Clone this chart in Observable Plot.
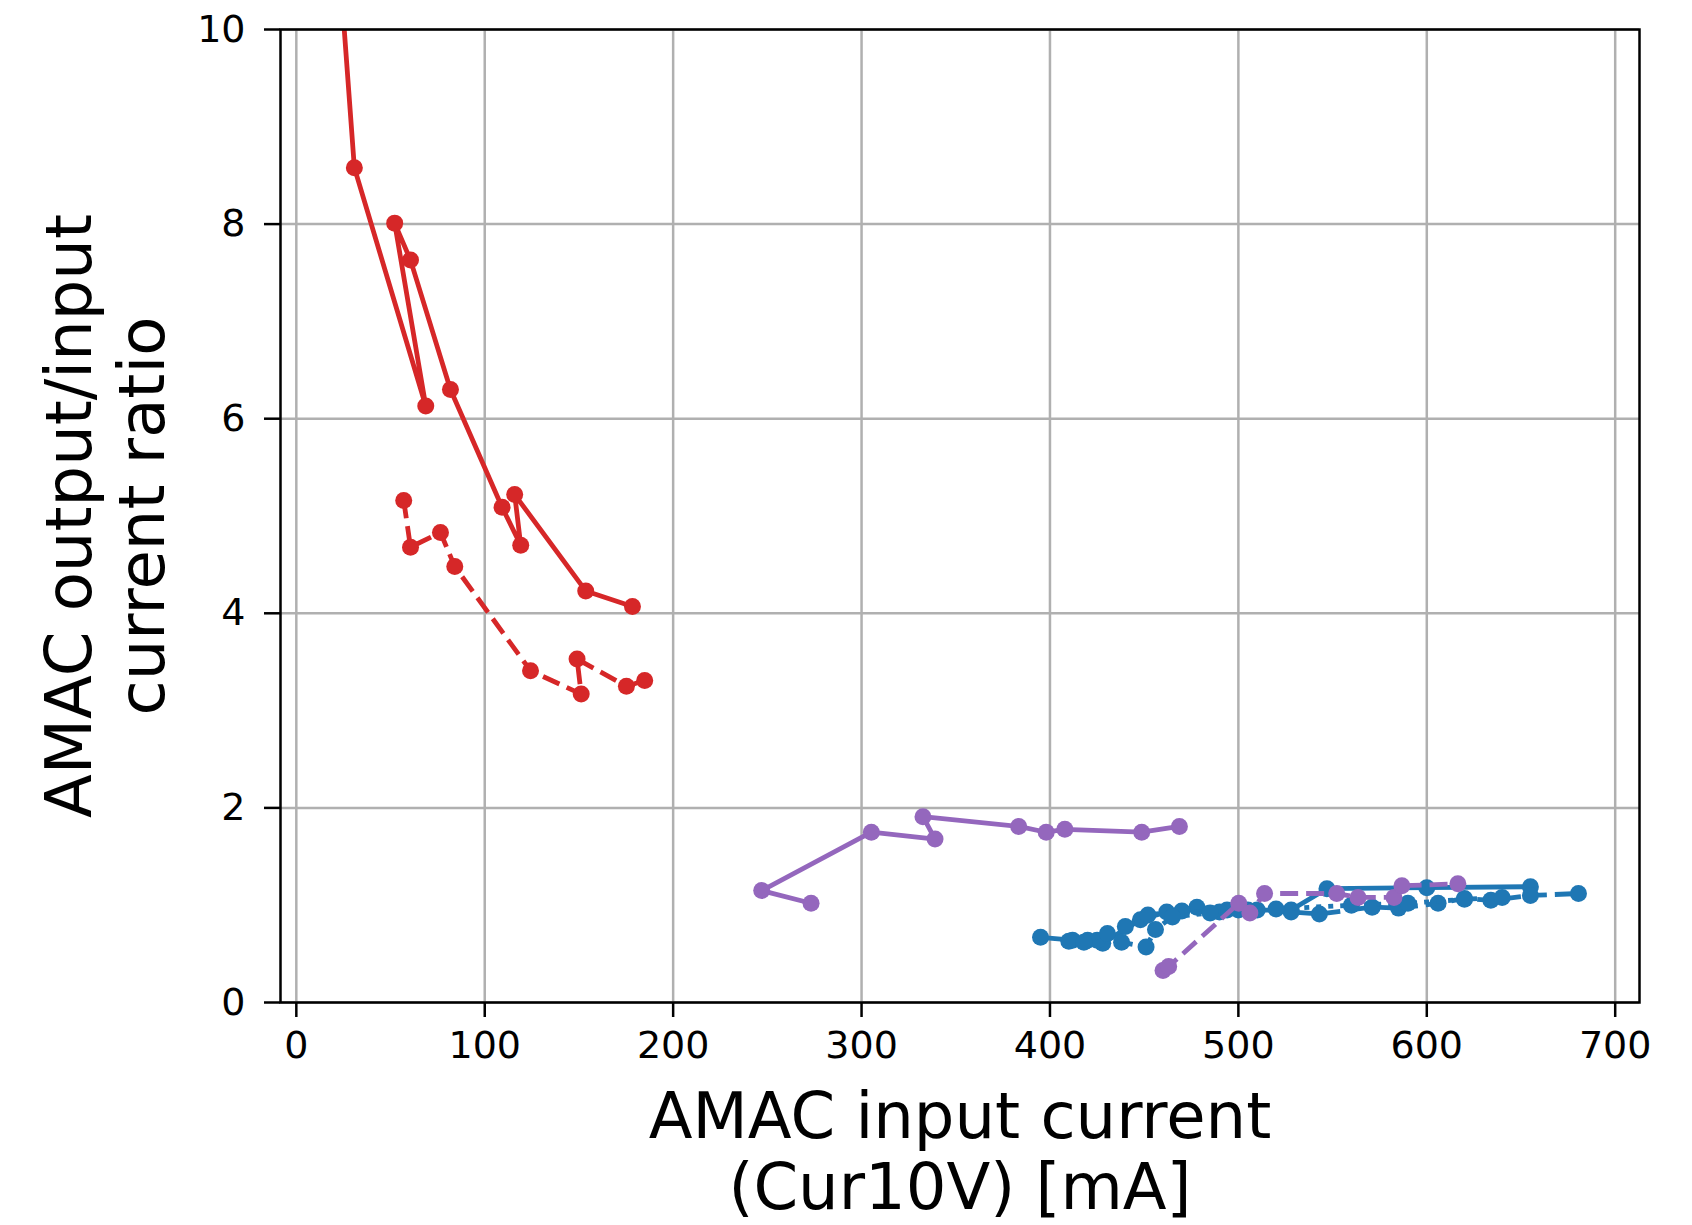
<!DOCTYPE html>
<html><head><meta charset="utf-8">
<script src="https://cdn.jsdelivr.net/npm/d3@7"></script>
<script src="https://cdn.jsdelivr.net/npm/@observablehq/plot@0.6"></script>
<style>body{margin:0;background:#fff;} svg{display:block;}</style>
</head><body><div id="chart"></div>
<script>
// ---- tick labels ----
const xTicks = [0, 100, 200, 300, 400, 500, 600, 700];
const yTicks = [0, 2, 4, 6, 8, 10];
const xLabel = "AMAC input current\n(Cur10V) [mA]";
const yLabel = "AMAC output/input\ncurrent ratio";

// ---- red series ----
const redSolidX = [24.3, 30.8, 68.7, 52.2, 60.6, 81.8, 109.2, 119.1, 115.9, 153.6, 178.4];
const redSolidY = [10.3, 8.58, 6.13, 8.01, 7.63, 6.30, 5.09, 4.70, 5.22, 4.23, 4.07];
const redDashX = [57.0, 60.6, 76.5, 84.1, 124.3, 151.2, 149.0, 175.2, 184.9];
const redDashY = [5.16, 4.68, 4.83, 4.48, 3.41, 3.17, 3.53, 3.25, 3.31];

// ---- purple series ----
const purpleSolidX = [273.2, 247.0, 305.2, 339.0, 332.6, 383.4, 398.0, 407.9, 448.7, 468.7];
const purpleSolidY = [1.02, 1.15, 1.75, 1.68, 1.91, 1.81, 1.75, 1.78, 1.75, 1.81];
const purpleDashX = [460.0, 463.0, 500.2, 506.1, 513.9, 552.2, 563.5, 582.6, 586.8, 616.5];
const purpleDashY = [0.33, 0.37, 1.02, 0.92, 1.12, 1.12, 1.08, 1.08, 1.20, 1.22];

// ---- blue series ----
const blueSolidX = [395.0, 412.0, 420.0, 428.0, 448.0, 462.0, 478.0, 494.0, 510.0, 528.0, 547.0, 600.0, 655.0];
const blueSolidY = [0.67, 0.64, 0.64, 0.61, 0.85, 0.93, 0.98, 0.95, 0.95, 0.95, 1.17, 1.18, 1.19];
const blueDashX = [410.0, 425.0, 440.0, 452.0, 470.0, 490.0, 505.0, 528.0, 543.0, 571.0, 585.0, 606.0, 620.0, 634.0, 655.0, 680.5];
const blueDashY = [0.63, 0.64, 0.78, 0.90, 0.94, 0.93, 0.95, 0.93, 0.91, 0.98, 0.97, 1.02, 1.07, 1.05, 1.10, 1.12];
const blueDotX = [418.0, 430.5, 438.0, 451.0, 456.0, 465.0, 485.0, 500.0, 520.0, 560.0, 590.0, 620.0, 640.0];
const blueDotY = [0.62, 0.71, 0.62, 0.57, 0.75, 0.88, 0.92, 0.95, 0.96, 1.00, 1.02, 1.06, 1.08];

const series = [
  {xs: blueSolidX, ys: blueSolidY, color: "#1f77b4", dash: null},
  {xs: blueDashX, ys: blueDashY, color: "#1f77b4", dash: "18,8"},
  {xs: blueDotX, ys: blueDotY, color: "#1f77b4", dash: "5,7"},
  {xs: purpleSolidX, ys: purpleSolidY, color: "#9467bd", dash: null},
  {xs: purpleDashX, ys: purpleDashY, color: "#9467bd", dash: "18,8"},
  {xs: redSolidX, ys: redSolidY, color: "#d62728", dash: null},
  {xs: redDashX, ys: redDashY, color: "#d62728", dash: "18,8"}
];

const marks = [
  Plot.gridX(xTicks, {stroke: "#b0b0b0", strokeOpacity: 1, strokeWidth: 2.5}),
  Plot.gridY(yTicks, {stroke: "#b0b0b0", strokeOpacity: 1, strokeWidth: 2.5})
];
for (const s of series) {
  const rows = s.xs.map((x, i) => ({x, y: s.ys[i]}));
  const lineOpts = {x: "x", y: "y", stroke: s.color, strokeWidth: 4.8, clip: true, strokeLinecap: "butt"};
  if (s.dash) lineOpts.strokeDasharray = s.dash;
  marks.push(Plot.line(rows, lineOpts));
  marks.push(Plot.dot(rows, {x: "x", y: "y", r: 8.5, fill: s.color, stroke: "none", clip: true}));
}
marks.push(
  Plot.frame({stroke: "#000", strokeWidth: 2.5}),
  Plot.axisX(xTicks, {tickSize: 15, tickPadding: 14, fontSize: 38, strokeWidth: 2.5, label: null, tickFormat: d => String(d)}),
  Plot.axisY(yTicks, {tickSize: 16, tickPadding: 19, fontSize: 38, strokeWidth: 2.5, label: null, tickFormat: d => String(d)}),
  Plot.text([xLabel], {text: d => d, frameAnchor: "bottom", dy: 86, lineAnchor: "top", fontSize: 64, lineHeight: 1.1, fill: "#000"}),
  Plot.text([yLabel], {text: d => d, frameAnchor: "left", dx: -176, rotate: -90, lineAnchor: "middle", textAnchor: "middle", fontSize: 64, lineHeight: 1.14, fill: "#000"})
);

const chart = Plot.plot({
  width: 1692,
  height: 1225,
  marginLeft: 280,
  marginRight: 53,
  marginTop: 29,
  marginBottom: 223,
  style: {fontFamily: "DejaVu Sans", background: "#fff", color: "#000"},
  x: {domain: [-8.4, 712.9], label: null},
  y: {domain: [0, 10], label: null},
  marks
});
document.getElementById("chart").appendChild(chart);
</script>
</body></html>
